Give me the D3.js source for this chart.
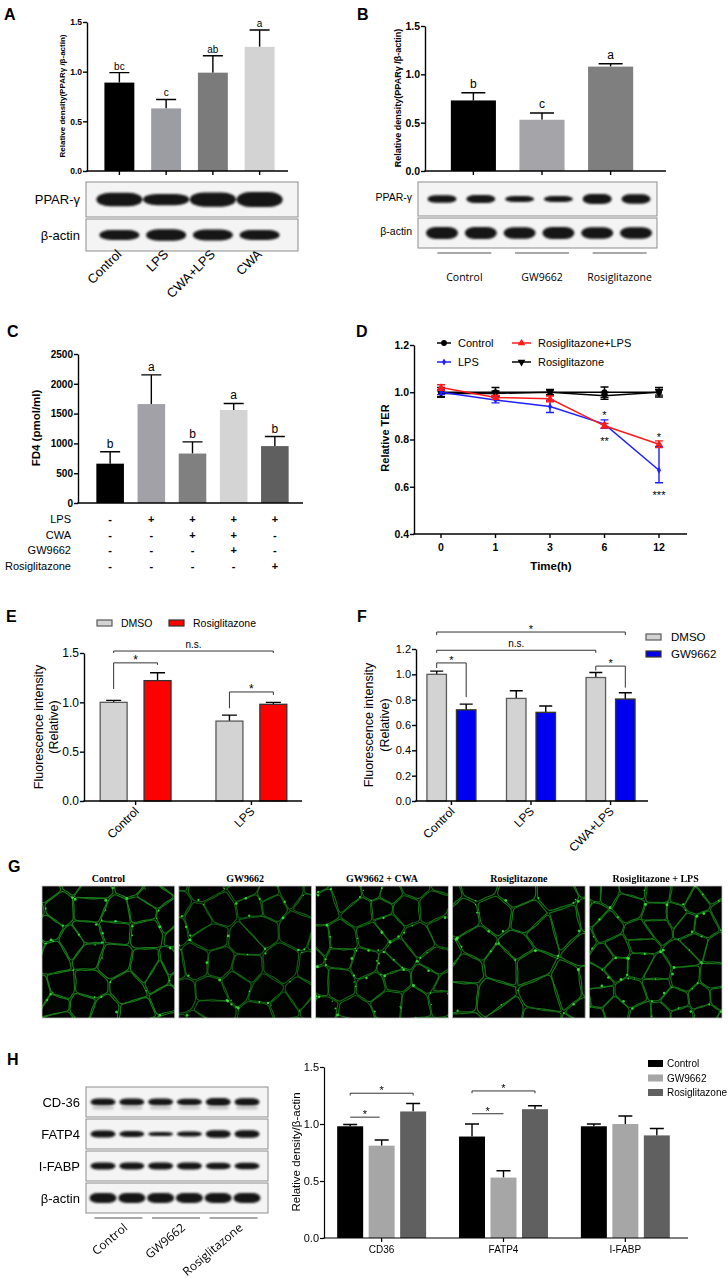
<!DOCTYPE html>
<html lang="en">
<head>
<meta charset="UTF-8">
<title>PPAR-γ figure</title>
<style>
  body { margin: 0; background: #fff; }
  svg { display: block; }
  text { font-family: "Liberation Sans", Arial, sans-serif; fill: #000; }
  .b { font-weight: bold; }
  .serif { font-family: "Liberation Serif", "Times New Roman", serif; font-weight: bold; }
  .open { font-family: "Open Sans", sans-serif; }
</style>
</head>
<body>
<div id="fig"></div>
<script src="https://d3js.org/d3.v7.min.js"></script>
<script>
// ---------------- data ----------------
// A: PPAR-γ / β-actin
const groupsA = ["Control", "LPS", "CWA+LPS", "CWA"];
const valuesA = [0.89, 0.63, 0.99, 1.25];
const errA = [0.10, 0.09, 0.17, 0.17];
const lettersA = ["bc", "c", "ab", "a"];
const colorsA = ["#000000", "#9c9ca3", "#7b7b7b", "#d3d3d3"];
const pparBandsA = [0.9, 0.75, 0.95, 1.0];
const actinBandsA = [0.85, 0.95, 0.9, 0.85];

// B
const groupsB = ["Control", "GW9662", "Rosiglitazone"];
const valuesB = [0.73, 0.53, 1.08];
const errB = [0.08, 0.07, 0.03];
const lettersB = ["b", "c", "a"];
const colorsB = ["#000000", "#a4a4a9", "#7f7f7f"];
const pparBandsB = [0.75, 0.8, 0.6, 0.6, 1.0, 0.95];
const actinBandsB = [1, 1, 0.95, 1, 0.95, 0.95];

// C: FD4
const valuesC = [660, 1660, 830, 1560, 955];
const errC = [200, 490, 195, 110, 160];
const lettersC = ["b", "a", "b", "a", "b"];
const colorsC = ["#000000", "#a1a1a7", "#808080", "#d4d4d4", "#5f5f5f"];
const treatRowsC = ["LPS", "CWA", "GW9662", "Rosiglitazone"];
const treatSignsC = [
  ["-", "+", "+", "+", "+"],
  ["-", "-", "+", "+", "-"],
  ["-", "-", "-", "+", "-"],
  ["-", "-", "-", "-", "+"]
];

// D: relative TER (error up / error down)
const timesD = ["0", "1", "3", "6", "12"];
const controlD = [1.0, 1.0, 1.0, 1.0, 1.0];
const controlErrD = [0.02, 0.02, 0.012, 0.022, 0.02];
const rosiD = [0.995, 0.995, 1.0, 0.985, 1.0];
const rosiErrD = [0.015, 0.01, 0.01, 0.015, 0.012];
const lpsD = [1.0, 0.967, 0.94, 0.865, 0.67];
const lpsErrD = [0.01, 0.012, 0.026, 0.018, 0.1];
const lpsErrLowD = [0.01, 0.012, 0.026, 0.018, 0.053];
const rosiLpsD = [1.02, 0.978, 0.972, 0.858, 0.78];
const rosiLpsErrD = [0.012, 0.008, 0.012, 0.01, 0.014];

// E
const groupsE = ["Control", "LPS"];
const seriesE = ["DMSO", "Rosiglitazone"];
const dmsoE = [1.0, 0.81];
const dmsoErrE = [0.02, 0.06];
const rosiE = [1.22, 0.98];
const rosiErrE = [0.08, 0.02];

// F
const groupsF = ["Control", "LPS", "CWA+LPS"];
const seriesF = ["DMSO", "GW9662"];
const dmsoF = [1.0, 0.81, 0.975];
const dmsoErrF = [0.025, 0.06, 0.04];
const gwF = [0.72, 0.70, 0.805];
const gwErrF = [0.045, 0.05, 0.05];

// G
const titlesG = ["Control", "GW9662", "GW9662 + CWA", "Rosiglitazone", "Rosiglitazone + LPS"];
const cellSizeG = [27, 29, 27, 33, 24];
const glowG = [0.95, 0.7, 0.8, 0.9, 0.85];

// H
const genesH = ["CD36", "FATP4", "I-FABP"];
const seriesH = ["Control", "GW9662", "Rosiglitazone"];
const controlH = [0.98, 0.89, 0.98];
const controlErrH = [0.015, 0.11, 0.02];
const gwH = [0.81, 0.53, 1.0];
const gwErrH = [0.05, 0.06, 0.07];
const rosiH = [1.11, 1.13, 0.90];
const rosiErrH = [0.07, 0.03, 0.06];
const colorsH = ["#000000", "#a6a6a6", "#606060"];
const blotRowsH = ["CD-36", "FATP4", "I-FABP", "β-actin"];
const blotBandsH = [
  [0.9, 0.9, 0.85, 0.8, 1.0, 0.95],
  [0.9, 0.75, 0.5, 0.6, 0.95, 0.95],
  [0.85, 0.85, 0.85, 0.85, 0.8, 0.8],
  [1.0, 1.0, 1.0, 1.0, 1.0, 1.0]
];

// ---------------- setup ----------------
const W = 728, H = 1280;
const svg = d3.select("#fig").append("svg")
  .attr("width", W).attr("height", H).attr("viewBox", `0 0 ${W} ${H}`);
const defs = svg.append("defs");
defs.append("filter").attr("id", "bandBlur")
  .attr("x", "-30%").attr("y", "-80%").attr("width", "160%").attr("height", "260%")
  .append("feGaussianBlur").attr("stdDeviation", 1.1);
defs.append("filter").attr("id", "soft")
  .append("feGaussianBlur").attr("stdDeviation", 0.75);
defs.append("filter").attr("id", "haze")
  .append("feGaussianBlur").attr("stdDeviation", 4);

const panelLetters = [["A", 4, 20], ["B", 357, 20], ["C", 7, 337], ["D", 356, 337],
                      ["E", 6, 622], ["F", 357, 622], ["G", 8, 872], ["H", 7, 1065]];
svg.selectAll(".plabel").data(panelLetters).join("text")
  .attr("class", "b").attr("x", d => d[1]).attr("y", d => d[2])
  .attr("font-size", 16).text(d => d[0]);

// ---------------- helpers ----------------
function yAxis(g, y, x, ticks, fmt, cls, size, sw) {
  const ax = g.append("g").attr("transform", `translate(${x},0)`)
    .call(d3.axisLeft(y).tickValues(ticks).tickFormat(fmt).tickSize(4).tickSizeOuter(0));
  ax.select(".domain").attr("stroke", "#000").attr("stroke-width", sw || 1.4);
  ax.selectAll(".tick line").attr("stroke", "#000").attr("stroke-width", sw || 1.4);
  ax.selectAll(".tick text").attr("class", cls).attr("font-size", size).attr("x", -5).attr("fill", "#000");
  return ax;
}
function baseline(g, x0, x1, y, ticks, sw) {
  g.append("line").attr("x1", x0 - 0.7).attr("x2", x1).attr("y1", y).attr("y2", y)
    .attr("stroke", "#000").attr("stroke-width", sw || 1.4);
  g.selectAll(null).data(ticks).join("line")
    .attr("x1", d => d).attr("x2", d => d).attr("y1", y).attr("y2", y + 4)
    .attr("stroke", "#000").attr("stroke-width", sw || 1.4);
}
// data items: {x (left), v, e, fill, stroke}
function bars(g, data, y, bw, capW, errColor) {
  g.selectAll(null).data(data).join("path")
    .attr("d", d => {
      const cx = d.x + bw / 2, t = y(d.v + d.e);
      return `M${cx},${y(d.v)}V${t}M${cx - capW / 2},${t}H${cx + capW / 2}`;
    })
    .attr("stroke", errColor || "#000").attr("stroke-width", 1.4).attr("fill", "none");
  g.selectAll(null).data(data).join("rect")
    .attr("x", d => d.x).attr("width", bw)
    .attr("y", d => y(d.v)).attr("height", d => y(0) - y(d.v))
    .attr("fill", d => d.fill)
    .attr("stroke", d => d.stroke || "none").attr("stroke-width", 1.3);
}
function bracket(g, xa, xb, yTop, yA, yB, label, fs) {
  g.append("path").attr("d", `M${xa},${yA}V${yTop}H${xb}V${yB}`)
    .attr("fill", "none").attr("stroke", "#333").attr("stroke-width", 1);
  g.append("text").attr("x", (xa + xb) / 2)
    .attr("y", label === "*" ? yTop + 1 : yTop - 3)
    .attr("text-anchor", "middle").attr("font-size", fs).text(label);
}
function blot(g, x0, x1, y0, y1, lanes, bands, bw, bh) {
  g.append("rect").attr("x", x0).attr("y", y0).attr("width", x1 - x0).attr("height", y1 - y0)
    .attr("fill", "#f4f4f4").attr("stroke", "#8d8d8d").attr("stroke-width", 1);
  const cy = (y0 + y1) / 2;
  g.append("g").attr("filter", "url(#bandBlur)")
    .selectAll("rect").data(bands).join("rect")
    .attr("x", (d, i) => lanes(i) - bw / 2).attr("width", bw)
    .attr("y", d => cy - bh * d / 2).attr("height", d => bh * d)
    .attr("rx", bw * 0.3).attr("ry", d => bh * d / 2)
    .attr("fill", "#141414");
}
function rotLabel(g, x, y, angle, text, size, cls) {
  g.append("text").attr("class", cls || null)
    .attr("transform", `translate(${x},${y}) rotate(${angle})`)
    .attr("text-anchor", "end").attr("font-size", size).text(text);
}
function vLabel(g, x, y, text, size, cls) {
  g.append("text").attr("class", cls || null)
    .attr("transform", `translate(${x},${y}) rotate(-90)`)
    .attr("text-anchor", "middle").attr("font-size", size).text(text);
}

// ---------------- Panel A ----------------
{
  const g = svg.append("g");
  const x = d3.scaleBand().domain(groupsA).range([96, 283]).paddingInner(0.36).paddingOuter(0.18);
  const y = d3.scaleLinear().domain([0, 1.5]).range([171, 22]);
  const bw = x.bandwidth();
  bars(g, groupsA.map((k, i) => ({ x: x(k), v: valuesA[i], e: errA[i], fill: colorsA[i] })), y, bw, 20);
  g.selectAll(null).data(groupsA).join("text")
    .attr("x", k => x(k) + bw / 2).attr("y", (k, i) => y(valuesA[i] + errA[i]) - 3)
    .attr("text-anchor", "middle").attr("font-size", 10).text((k, i) => lettersA[i]);
  yAxis(g, y, 87, [0, 0.5, 1.0, 1.5], d3.format(".1f"), "b", 8.5);
  baseline(g, 87, 288, 171, groupsA.map(k => x(k) + bw / 2));
  vLabel(g, 65, 96, "Relative density(PPARγ /β-actin)", 8, "b");
  const lanes = i => x(groupsA[i]) + bw / 2;
  blot(g, 86, 298, 182, 217, lanes, pparBandsA, 46, 15);
  blot(g, 86, 298, 219, 251, lanes, actinBandsA, 40, 12);
  g.append("text").attr("x", 80).attr("y", 204).attr("text-anchor", "end").attr("font-size", 13).text("PPAR-γ");
  g.append("text").attr("x", 80).attr("y", 240).attr("text-anchor", "end").attr("font-size", 13).text("β-actin");
  groupsA.forEach(k => rotLabel(g, x(k) + bw / 2 + 3, 255, -45, k, 13));
}

// ---------------- Panel B ----------------
{
  const g = svg.append("g");
  const x = d3.scaleBand().domain(groupsB).range([433, 651]).paddingInner(0.343).paddingOuter(0.26);
  const y = d3.scaleLinear().domain([0, 1.5]).range([171, 26]);
  const bw = x.bandwidth();
  bars(g, groupsB.map((k, i) => ({ x: x(k), v: valuesB[i], e: errB[i], fill: colorsB[i] })), y, bw, 24);
  g.selectAll(null).data(groupsB).join("text")
    .attr("x", k => x(k) + bw / 2).attr("y", (k, i) => y(valuesB[i] + errB[i]) - 5)
    .attr("text-anchor", "middle").attr("font-size", 12).text((k, i) => lettersB[i]);
  yAxis(g, y, 425, [0, 0.5, 1.0, 1.5], d3.format(".1f"), "b", 10.5);
  baseline(g, 425, 666, 171, groupsB.map(k => x(k) + bw / 2));
  vLabel(g, 401, 98, "Relative density(PPARγ /β-actin)", 9, "b");
  const lanes = d3.scalePoint().domain(d3.range(6)).range([442, 636]);
  blot(g, 418, 657, 182, 216, lanes, pparBandsB, 29, 10);
  blot(g, 418, 657, 218, 248, lanes, actinBandsB, 32, 12);
  g.append("text").attr("x", 412).attr("y", 201).attr("text-anchor", "end").attr("font-size", 10.5).text("PPAR-γ");
  g.append("text").attr("x", 412).attr("y", 235).attr("text-anchor", "end").attr("font-size", 10.5).text("β-actin");
  groupsB.forEach((k, i) => {
    const c = (lanes(2 * i) + lanes(2 * i + 1)) / 2 + 3;
    g.append("line").attr("x1", c - 27).attr("x2", c + 27).attr("y1", 253).attr("y2", 253)
      .attr("stroke", "#555").attr("stroke-width", 1.2);
    g.append("text").attr("class", "open").attr("x", c).attr("y", 281)
      .attr("text-anchor", "middle").attr("font-size", 10.5).text(k);
  });
}

// ---------------- Panel C ----------------
{
  const g = svg.append("g");
  const idx = d3.range(valuesC.length);
  const x = d3.scaleBand().domain(idx).range([84, 301]).paddingInner(0.33).paddingOuter(0.3);
  const y = d3.scaleLinear().domain([0, 2500]).range([503, 354]);
  const bw = x.bandwidth();
  bars(g, idx.map(i => ({ x: x(i), v: valuesC[i], e: errC[i], fill: colorsC[i] })), y, bw, 20);
  g.selectAll(null).data(idx).join("text")
    .attr("x", i => x(i) + bw / 2).attr("y", i => y(valuesC[i] + errC[i]) - 4)
    .attr("text-anchor", "middle").attr("font-size", 12).text(i => lettersC[i]);
  yAxis(g, y, 78, d3.range(0, 2501, 500), d3.format("d"), "b", 10);
  baseline(g, 78, 303, 503, []);
  vLabel(g, 40, 428, "FD4 (pmol/ml)", 11.5, "b");
  treatRowsC.forEach((r, ri) => {
    const yy = 523 + ri * 15.7;
    g.append("text").attr("x", 71).attr("y", yy).attr("text-anchor", "end").attr("font-size", 11).text(r);
    g.selectAll(null).data(treatSignsC[ri]).join("text")
      .attr("x", (s, i) => x(i) + bw / 2).attr("y", yy)
      .attr("text-anchor", "middle").attr("font-size", 11).attr("class", "b").text(s => s);
  });
}

// ---------------- Panel D ----------------
{
  const g = svg.append("g");
  const x = d3.scalePoint().domain(timesD).range([441, 659]);
  const y = d3.scaleLinear().domain([0.4, 1.2]).range([534, 345]);
  yAxis(g, y, 414, [0.4, 0.6, 0.8, 1.0, 1.2], d3.format(".1f"), "b", 10.5);
  baseline(g, 414, 687, 534, timesD.map(t => x(t)));
  g.selectAll(null).data(timesD).join("text").attr("class", "b")
    .attr("x", t => x(t)).attr("y", 551).attr("text-anchor", "middle").attr("font-size", 10.5).text(t => t);
  vLabel(g, 389, 438, "Relative TER", 11, "b");
  g.append("text").attr("class", "b").attr("x", 551).attr("y", 570).attr("text-anchor", "middle")
    .attr("font-size", 11.5).text("Time(h)");

  const series = [
    { name: "Control", v: controlD, e: controlErrD, lo: controlErrD, color: "#000", sym: d3.symbolCircle, size: 26, rot: 0 },
    { name: "Rosiglitazone", v: rosiD, e: rosiErrD, lo: rosiErrD, color: "#000", sym: d3.symbolTriangle, size: 26, rot: 180 },
    { name: "LPS", v: lpsD, e: lpsErrD, lo: lpsErrLowD, color: "#1f1fff", sym: d3.symbolDiamond, size: 14, rot: 0 },
    { name: "Rosiglitazone+LPS", v: rosiLpsD, e: rosiLpsErrD, lo: rosiLpsErrD, color: "#ff1a1a", sym: d3.symbolTriangle, size: 24, rot: 0 }
  ];
  const line = d3.line().x((d, i) => x(timesD[i])).y(d => y(d));
  series.forEach(s => {
    g.append("path").attr("d", line(s.v)).attr("fill", "none").attr("stroke", s.color).attr("stroke-width", 1.5);
    g.selectAll(null).data(s.v).join("path")
      .attr("d", (d, i) => {
        const cx = x(timesD[i]), lo = y(d - s.lo[i]), hi = y(d + s.e[i]);
        return `M${cx},${lo}V${hi}M${cx - 4},${lo}H${cx + 4}M${cx - 4},${hi}H${cx + 4}`;
      })
      .attr("stroke", s.color).attr("stroke-width", 1.4).attr("fill", "none");
    g.selectAll(null).data(s.v).join("path")
      .attr("transform", (d, i) => `translate(${x(timesD[i])},${y(d)}) rotate(${s.rot})`)
      .attr("d", d3.symbol(s.sym, s.size)).attr("fill", s.color);
  });
  const stars = [["6", "*", 419], ["6", "**", 445], ["12", "*", 441], ["12", "***", 499]];
  stars.forEach(([t, lab, yy]) => g.append("text").attr("x", x(t)).attr("y", yy)
    .attr("text-anchor", "middle").attr("font-size", 11).text(lab));
  const legPos = [[437, 343], [512, 362], [437, 362], [512, 343]];
  series.forEach((s, i) => {
    const [lx, ly] = legPos[i];
    const w = i % 2 ? 19 : 14;
    g.append("line").attr("x1", lx).attr("x2", lx + w).attr("y1", ly).attr("y2", ly)
      .attr("stroke", s.color).attr("stroke-width", 1.5);
    g.append("path").attr("transform", `translate(${lx + w / 2},${ly}) rotate(${s.rot})`)
      .attr("d", d3.symbol(s.sym, s.size)).attr("fill", s.color);
    g.append("text").attr("x", lx + w + 7).attr("y", ly + 4).attr("font-size", 11).text(s.name);
  });
}

// ---------------- Panel E ----------------
{
  const g = svg.append("g");
  const x0 = d3.scaleBand().domain(groupsE).range([77, 310]).paddingInner(0.388).paddingOuter(0.2);
  const x1 = d3.scaleBand().domain(seriesE).range([0, x0.bandwidth()]).paddingInner(0.386);
  const y = d3.scaleLinear().domain([0, 1.5]).range([801, 653]);
  const bw = x1.bandwidth();
  const fills = ["#d3d3d3", "#ff0000"], strokes = ["#5a5a5a", "#333"];
  const data = [];
  groupsE.forEach((gr, i) => {
    data.push({ x: x0(gr) + x1("DMSO"), v: dmsoE[i], e: dmsoErrE[i], fill: fills[0], stroke: strokes[0] });
    data.push({ x: x0(gr) + x1("Rosiglitazone"), v: rosiE[i], e: rosiErrE[i], fill: fills[1], stroke: strokes[1] });
  });
  bars(g, data, y, bw, 15);
  yAxis(g, y, 84, [0, 0.5, 1.0, 1.5], d3.format(".1f"), null, 12);
  const gc = gr => x0(gr) + x0.bandwidth() / 2;
  baseline(g, 84, 302, 801, groupsE.map(gc));
  groupsE.forEach(gr => rotLabel(g, gc(gr) + 4, 812, -45, gr, 12));
  vLabel(g, 43, 727, "Fluorescence intensity", 12.5);
  vLabel(g, 58, 727, "(Relative)", 12.5);
  const cx = (gr, s) => x0(gr) + x1(s) + bw / 2;
  bracket(g, cx("Control", "DMSO"), cx("LPS", "Rosiglitazone"), y(1.52), y(1.50), y(1.50), "n.s.", 10);
  bracket(g, cx("Control", "DMSO"), cx("Control", "Rosiglitazone"), y(1.40), y(1.135), y(1.38), "*", 12);
  bracket(g, cx("LPS", "DMSO"), cx("LPS", "Rosiglitazone"), y(1.105), y(0.94), y(1.075), "*", 12);
  seriesE.forEach((s, i) => {
    const lx = [97, 169][i];
    g.append("rect").attr("x", lx).attr("y", 620).attr("width", 15).attr("height", 6)
      .attr("fill", fills[i]).attr("stroke", strokes[i]).attr("stroke-width", 1.2);
    g.append("text").attr("x", lx + 24).attr("y", 627).attr("font-size", 10.5).text(s);
  });
}

// ---------------- Panel F ----------------
{
  const g = svg.append("g");
  const x0 = d3.scaleBand().domain(groupsF).range([415, 647]).paddingInner(0.384).paddingOuter(0.15);
  const x1 = d3.scaleBand().domain(seriesF).range([0, x0.bandwidth()]).paddingInner(0.339);
  const y = d3.scaleLinear().domain([0, 1.2]).range([801, 649]);
  const bw = x1.bandwidth();
  const fills = ["#d3d3d3", "#0000f0"], strokes = ["#5a5a5a", "#3a3a20"];
  const data = [];
  groupsF.forEach((gr, i) => {
    data.push({ x: x0(gr) + x1("DMSO"), v: dmsoF[i], e: dmsoErrF[i], fill: fills[0], stroke: strokes[0] });
    data.push({ x: x0(gr) + x1("GW9662"), v: gwF[i], e: gwErrF[i], fill: fills[1], stroke: strokes[1] });
  });
  bars(g, data, y, bw, 13);
  yAxis(g, y, 416, [0, 0.2, 0.4, 0.6, 0.8, 1.0, 1.2], d3.format(".1f"), null, 11);
  const gc = gr => x0(gr) + x0.bandwidth() / 2;
  baseline(g, 416, 648, 801, groupsF.map(gc));
  groupsF.forEach(gr => rotLabel(g, gc(gr) + 4, 812, -45, gr, 12));
  vLabel(g, 373, 725, "Fluorescence intensity", 12.5);
  vLabel(g, 389, 725, "(Relative)", 12.5);
  const cx = (gr, s) => x0(gr) + x1(s) + bw / 2;
  bracket(g, cx("Control", "DMSO"), cx("CWA+LPS", "GW9662"), y(1.334), y(1.31), y(1.31), "*", 11);
  bracket(g, cx("Control", "DMSO"), cx("CWA+LPS", "DMSO"), y(1.19), y(1.17), y(1.17), "n.s.", 10);
  bracket(g, cx("Control", "DMSO"), cx("Control", "GW9662"), y(1.09), y(1.05), y(0.82), "*", 11);
  bracket(g, cx("CWA+LPS", "DMSO"), cx("CWA+LPS", "GW9662"), y(1.065), y(1.03), y(0.895), "*", 11);
  seriesF.forEach((s, i) => {
    const ly = [634, 651][i];
    g.append("rect").attr("x", 646).attr("y", ly).attr("width", 15).attr("height", 6)
      .attr("fill", fills[i]).attr("stroke", strokes[i]).attr("stroke-width", 1.2);
    g.append("text").attr("x", 671).attr("y", ly + 7).attr("font-size", 11.5).text(s);
  });
}

// ---------------- Panel G ----------------
function lcg(seed) { // deterministic texture generator, used only to draw the micrographs
  let s = seed >>> 0;
  return () => (s = (Math.imul(s, 1664525) + 1013904223) >>> 0) / 4294967296;
}
function micrograph(g, x, y, w, h, seed, cell, glow) {
  const rnd = lcg(seed * 7919);
  const id = "clipG" + seed;
  defs.append("clipPath").attr("id", id)
    .append("rect").attr("x", x).attr("y", y).attr("width", w).attr("height", h);
  const m = g.append("g").attr("clip-path", `url(#${id})`);
  m.append("rect").attr("x", x).attr("y", y).attr("width", w).attr("height", h).attr("fill", "#010201");
  const pts = [];
  for (let r = -1; r * cell * 0.9 < h + cell; r++)
    for (let c = -1; c * cell < w + cell; c++)
      pts.push([x + c * cell + (r % 2 ? cell / 2 : 0) + (rnd() - 0.5) * cell * 0.8,
                y + r * cell * 0.9 + (rnd() - 0.5) * cell * 0.75]);
  const vor = d3.Delaunay.from(pts).voronoi([x - cell, y - cell, x + w + cell, y + h + cell]);
  const curve = d3.line().curve(d3.curveCatmullRomClosed.alpha(0.5));
  // faint green haze
  m.append("g").attr("filter", "url(#haze)").selectAll("circle")
    .data(pts.filter(() => rnd() < 0.4)).join("circle")
    .attr("cx", d => d[0] + cell / 2).attr("cy", d => d[1] + cell / 2).attr("r", cell * 0.4)
    .attr("fill", "#1a4d1a").attr("opacity", 0.3 * glow);
  const mem = m.append("g").attr("filter", "url(#soft)");
  const dots = [];
  pts.forEach((p, i) => {
    const poly = vor.cellPolygon(i);
    if (!poly) return;
    const pp = poly.slice(0, -1);
    const cx = d3.mean(pp, q => q[0]), cy = d3.mean(pp, q => q[1]);
    const sh = [];
    pp.forEach((q, k) => {
      const n = pp[(k + 1) % pp.length];
      sh.push([q[0] + (cx - q[0]) * 0.08, q[1] + (cy - q[1]) * 0.08]);
      const mx = (q[0] + n[0]) / 2, my = (q[1] + n[1]) / 2;
      sh.push([mx + (cx - mx) * (0.02 + rnd() * 0.07), my + (cy - my) * (0.02 + rnd() * 0.07)]);
    });
    mem.append("path").attr("d", curve(sh)).attr("fill", "#010301")
      .attr("fill-opacity", 0.75)
      .attr("stroke", "#188018").attr("stroke-width", 1.15).attr("stroke-opacity", glow);
    sh.forEach(q => { if (rnd() < 0.14) dots.push([q[0] + (rnd() - 0.5) * 3, q[1] + (rnd() - 0.5) * 3, 0.6 + rnd() * 0.9]); });
  });
  m.append("g").selectAll("circle").data(dots).join("circle")
    .attr("cx", d => d[0]).attr("cy", d => d[1]).attr("r", d => d[2])
    .attr("fill", "#3cf03c").attr("opacity", 0.85);
  g.append("rect").attr("x", x).attr("y", y).attr("width", w).attr("height", h)
    .attr("fill", "none").attr("stroke", "#c4c4c4").attr("stroke-width", 0.8);
}
{
  const g = svg.append("g");
  const x = d3.scaleBand().domain(titlesG).range([42, 722]).paddingInner(0.03);
  titlesG.forEach((t, i) => {
    g.append("text").attr("class", "serif").attr("x", x(t) + x.bandwidth() / 2).attr("y", 882)
      .attr("text-anchor", "middle").attr("font-size", 10).text(t);
    micrograph(g, x(t), 886, x.bandwidth(), 132, i + 1, cellSizeG[i], glowG[i]);
  });
}

// ---------------- Panel H ----------------
{
  const g = svg.append("g");
  const lanes = d3.scalePoint().domain(d3.range(6)).range([103, 247]);
  const rowsY = [[1087, 1117], [1119, 1149], [1151, 1181], [1183, 1213]];
  blotRowsH.forEach((r, i) => {
    const [y0, y1] = rowsY[i];
    blot(g, 86, 268, y0, y1, lanes, blotBandsH[i], i === 3 ? 27 : 25, i === 3 ? 10 : 8);
    g.append("text").attr("x", 80).attr("y", (y0 + y1) / 2 + 5).attr("text-anchor", "end")
      .attr("font-size", 13).text(r);
  });
  // faint lower CD-36 band
  g.append("g").attr("filter", "url(#bandBlur)").selectAll("rect").data(blotBandsH[0]).join("rect")
    .attr("x", (d, i) => lanes(i) - 11).attr("width", 22).attr("y", 1106).attr("height", 3.5)
    .attr("rx", 4).attr("fill", "#b5b5b5").attr("opacity", d => d * 0.8);
  seriesH.forEach((s, i) => {
    const c = (lanes(2 * i) + lanes(2 * i + 1)) / 2 + 1;
    g.append("line").attr("x1", c - 24).attr("x2", c + 24).attr("y1", 1218).attr("y2", 1218)
      .attr("stroke", "#555").attr("stroke-width", 1.2);
    rotLabel(g, c + 10, 1229, -40, s, 12, "open");
  });

  const x0 = d3.scaleBand().domain(genesH).range([325, 682]).paddingInner(0.27).paddingOuter(0.1);
  const x1 = d3.scaleBand().domain(seriesH).range([0, x0.bandwidth()]).paddingInner(0.175);
  const y = d3.scaleLinear().domain([0, 1.5]).range([1238, 1067]);
  const bw = x1.bandwidth();
  const vals = [controlH, gwH, rosiH], errs = [controlErrH, gwErrH, rosiErrH];
  const data = [];
  genesH.forEach((gn, gi) => seriesH.forEach((s, si) =>
    data.push({ x: x0(gn) + x1(s), v: vals[si][gi], e: errs[si][gi], fill: colorsH[si] })));
  bars(g, data, y, bw, 14);
  yAxis(g, y, 324, [0, 0.5, 1.0, 1.5], d3.format(".1f"), null, 11, 1.2);
  const gc = gn => x0(gn) + x0.bandwidth() / 2;
  baseline(g, 324, 688, 1238, genesH.map(gc), 1.2);
  g.selectAll(null).data(genesH).join("text")
    .attr("x", gc).attr("y", 1253).attr("text-anchor", "middle").attr("font-size", 10).text(d => d);
  vLabel(g, 300, 1152, "Relative density/β-actin", 11.5);
  const cx = (gn, s) => x0(gn) + x1(s) + bw / 2;
  bracket(g, cx("CD36", "Control"), cx("CD36", "Rosiglitazone"), y(1.27), y(1.25), y(1.25), "*", 11);
  bracket(g, cx("CD36", "Control"), cx("CD36", "GW9662") - 2, y(1.06), y(1.06), y(1.06), "*", 11);
  bracket(g, cx("FATP4", "Control"), cx("FATP4", "Rosiglitazone"), y(1.29), y(1.27), y(1.27), "*", 11);
  bracket(g, cx("FATP4", "Control"), cx("FATP4", "GW9662"), y(1.09), y(1.09), y(1.09), "*", 11);
  seriesH.forEach((s, i) => {
    const ly = 1060 + i * 14.5;
    g.append("rect").attr("x", 648).attr("y", ly).attr("width", 15).attr("height", 7).attr("fill", colorsH[i]);
    g.append("text").attr("x", 667).attr("y", ly + 7).attr("font-size", 10).text(s);
  });
}
</script>
</body>
</html>
